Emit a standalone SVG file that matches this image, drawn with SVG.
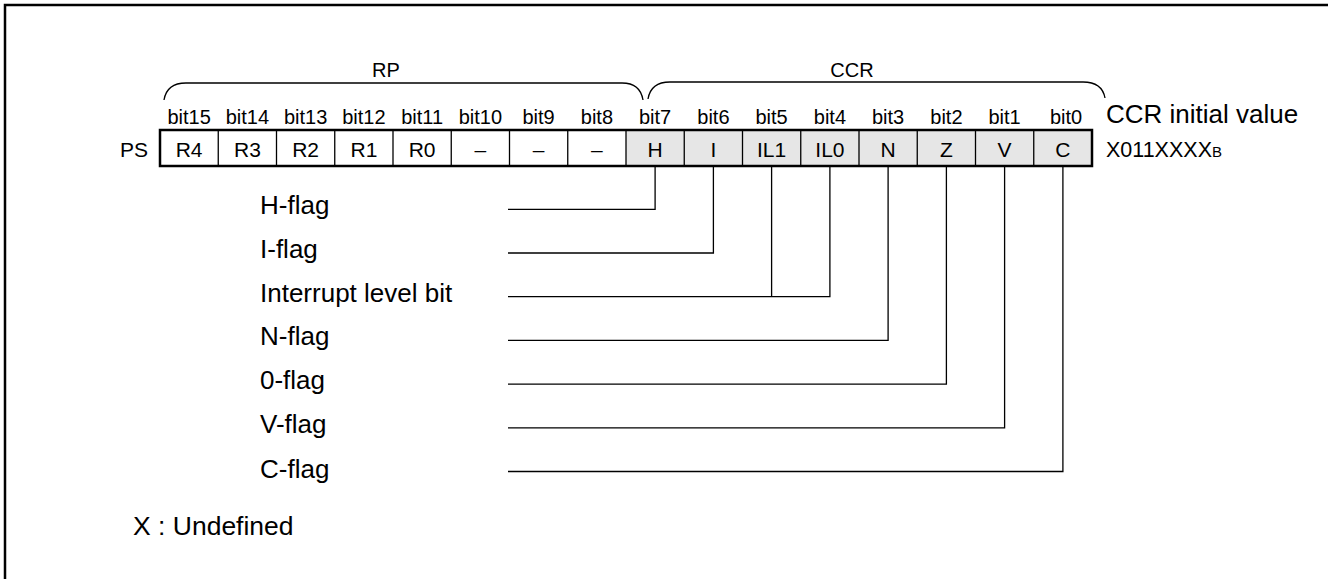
<svg xmlns="http://www.w3.org/2000/svg" width="1328" height="579" viewBox="0 0 1328 579">
<style>
  text { font-family: "Liberation Sans", Arial, sans-serif; fill: #000; }
  .bit { font-size: 20px; text-anchor: middle; }
  .cell { font-size: 21px; text-anchor: middle; }
  .grp { font-size: 20px; text-anchor: middle; }
  .lbl { font-size: 26px; }
  .ln { stroke: #000; stroke-width: 1.3; fill: none; }
  .div { stroke: #000; stroke-width: 1.3; }
</style>
<rect width="1328" height="579" fill="#fff"/>
<path d="M5,579 V5 H1328" fill="none" stroke="#000" stroke-width="2.5"/>

<g id="braces">
  <path class="ln" d="M164,100 C166,88 174,83 186,83 L622,83 C634,83 641,88 643,100"/>
  <path class="ln" d="M648,99 C650,87 658,82 670,82 L1083,82 C1095,82 1103,87 1105,98"/>
  <text class="grp" x="386" y="77">RP</text>
  <text class="grp" x="852" y="77">CCR</text>
</g>

<g id="bit-labels">
  <text class="bit" x="189.1" y="124">bit15</text>
  <text class="bit" x="247.4" y="124">bit14</text>
  <text class="bit" x="305.6" y="124">bit13</text>
  <text class="bit" x="363.9" y="124">bit12</text>
  <text class="bit" x="422.1" y="124">bit11</text>
  <text class="bit" x="480.4" y="124">bit10</text>
  <text class="bit" x="538.6" y="124">bit9</text>
  <text class="bit" x="596.9" y="124">bit8</text>
  <text class="bit" x="655.1" y="124">bit7</text>
  <text class="bit" x="713.4" y="124">bit6</text>
  <text class="bit" x="771.6" y="124">bit5</text>
  <text class="bit" x="829.9" y="124">bit4</text>
  <text class="bit" x="888.1" y="124">bit3</text>
  <text class="bit" x="946.4" y="124">bit2</text>
  <text class="bit" x="1004.6" y="124">bit1</text>
  <text class="bit" x="1066" y="124">bit0</text>
</g>

<g id="register">
  <text class="cell" x="148" y="157" style="text-anchor:end">PS</text>
  <rect x="626" y="130" width="466" height="36" fill="#e6e6e6"/>
  <g class="div">
    <line x1="218.25" y1="130" x2="218.25" y2="166"/>
    <line x1="276.5" y1="130" x2="276.5" y2="166"/>
    <line x1="334.75" y1="130" x2="334.75" y2="166"/>
    <line x1="393" y1="130" x2="393" y2="166"/>
    <line x1="451.25" y1="130" x2="451.25" y2="166"/>
    <line x1="509.5" y1="130" x2="509.5" y2="166"/>
    <line x1="567.75" y1="130" x2="567.75" y2="166"/>
    <line x1="626" y1="130" x2="626" y2="166"/>
    <line x1="684.25" y1="130" x2="684.25" y2="166"/>
    <line x1="742.5" y1="130" x2="742.5" y2="166"/>
    <line x1="800.75" y1="130" x2="800.75" y2="166"/>
    <line x1="859" y1="130" x2="859" y2="166"/>
    <line x1="917.25" y1="130" x2="917.25" y2="166"/>
    <line x1="975.5" y1="130" x2="975.5" y2="166"/>
    <line x1="1033.75" y1="130" x2="1033.75" y2="166"/>
  </g>
  <rect x="160" y="130" width="932" height="36" fill="none" stroke="#000" stroke-width="2.5"/>
  <text class="cell" x="189.1" y="157">R4</text>
  <text class="cell" x="247.4" y="157">R3</text>
  <text class="cell" x="305.6" y="157">R2</text>
  <text class="cell" x="363.9" y="157">R1</text>
  <text class="cell" x="422.1" y="157">R0</text>
  <text class="cell" x="480.4" y="157">–</text>
  <text class="cell" x="538.6" y="157">–</text>
  <text class="cell" x="596.9" y="157">–</text>
  <text class="cell" x="655.1" y="157">H</text>
  <text class="cell" x="713.4" y="157">I</text>
  <text class="cell" x="771.6" y="157">IL1</text>
  <text class="cell" x="829.9" y="157">IL0</text>
  <text class="cell" x="888.1" y="157">N</text>
  <text class="cell" x="946.4" y="157">Z</text>
  <text class="cell" x="1004.6" y="157">V</text>
  <text class="cell" x="1062.9" y="157">C</text>
</g>

<g id="initial-value">
  <text x="1106" y="123" style="font-size:26px">CCR initial value</text>
  <text x="1106" y="157" style="font-size:21.5px">X011XXXX<tspan style="font-size:15px">B</tspan></text>
</g>

<g id="flag-labels">
  <text id="h-flag" class="lbl" x="260" y="214">H-flag</text>
  <text id="i-flag" class="lbl" x="260" y="258">I-flag</text>
  <text id="il-bit" class="lbl" x="260" y="302">Interrupt level bit</text>
  <text id="n-flag" class="lbl" x="260" y="345">N-flag</text>
  <text id="z-flag" class="lbl" x="260" y="389">0-flag</text>
  <text id="v-flag" class="lbl" x="260" y="433">V-flag</text>
  <text id="c-flag" class="lbl" x="260" y="478">C-flag</text>
</g>

<g id="connectors" class="ln">
  <path d="M508,209.3 H655.1 V166"/>
  <path d="M508,253 H713.4 V166"/>
  <path d="M508,296.7 H829.9 V166 M771.6,296.7 V166"/>
  <path d="M508,340.4 H888.1 V166"/>
  <path d="M508,384.1 H946.4 V166"/>
  <path d="M508,427.8 H1004.6 V166"/>
  <path d="M508,471.5 H1062.9 V166"/>
</g>

<g id="note">
  <text class="lbl" x="133" y="535" style="font-size:26.5px">X : Undefined</text>
</g>
</svg>
